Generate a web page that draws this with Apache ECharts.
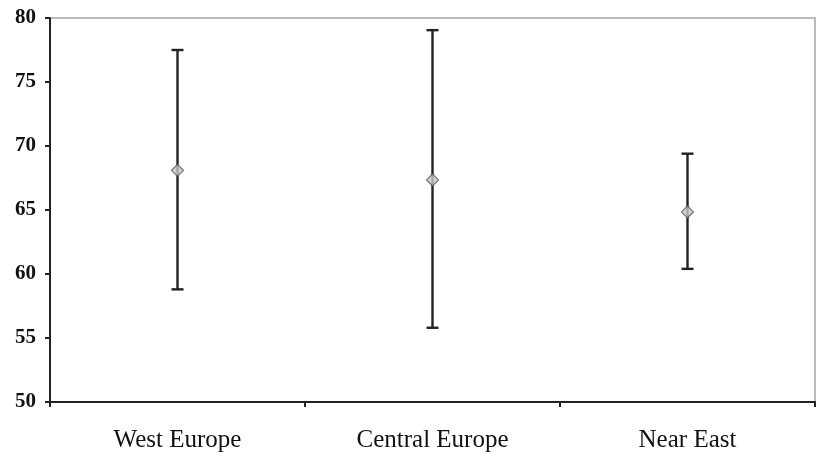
<!DOCTYPE html>
<html>
<head>
<meta charset="utf-8">
<script src="https://cdn.jsdelivr.net/npm/echarts@6/dist/echarts.min.js"></script>
<style>html,body{margin:0;padding:0;background:#fff}#c{width:817px;height:454px}</style>
</head>
<body>
<div id="c"></div>
<script>
const categories = ['West Europe', 'Central Europe', 'Near East'];
const means = [68.1, 67.35, 64.85];
const lows = [58.8, 55.8, 60.4];
const highs = [77.5, 79.05, 69.4];
const yTicks = [50, 55, 60, 65, 70, 75, 80];

const chart = echarts.init(document.getElementById('c'), null, {renderer: 'canvas'});
const errData = categories.map((c, i) => [i, lows[i], highs[i]]);
chart.setOption({
  animation: false,
  backgroundColor: '#fff',
  grid: {left: 50, right: 2, top: 18, bottom: 52, show: true, borderColor: '#bbbbbb', borderWidth: 2, backgroundColor: 'transparent'},
  xAxis: {
    type: 'category', data: categories, boundaryGap: true,
    axisLine: {lineStyle: {color: '#222', width: 2}},
    axisTick: {show: true, length: 5, lineStyle: {color: '#222', width: 2}},
    axisLabel: {margin: 26, color: '#111', fontFamily: 'Liberation Serif', fontSize: 25}
  },
  yAxis: {
    type: 'value', min: yTicks[0], max: yTicks[yTicks.length - 1], interval: 5,
    axisLine: {show: true, lineStyle: {color: '#222', width: 2}},
    axisTick: {show: true, length: 5, lineStyle: {color: '#222', width: 2}},
    splitLine: {show: false},
    axisLabel: {margin: 14, color: '#111', fontFamily: 'Liberation Serif', fontSize: 21, fontWeight: 'bold'}
  },
  series: [
    {
      type: 'custom',
      data: errData,
      renderItem: function (params, api) {
        const x = api.value(0);
        const lo = api.coord([x, api.value(1)]);
        const hi = api.coord([x, api.value(2)]);
        const hw = 6;
        const st = {stroke: '#222', lineWidth: 2.4};
        return {
          type: 'group',
          children: [
            {type: 'line', shape: {x1: lo[0], y1: lo[1], x2: hi[0], y2: hi[1]}, style: st},
            {type: 'line', shape: {x1: lo[0] - hw, y1: lo[1], x2: lo[0] + hw, y2: lo[1]}, style: st},
            {type: 'line', shape: {x1: hi[0] - hw, y1: hi[1], x2: hi[0] + hw, y2: hi[1]}, style: st}
          ]
        };
      },
      z: 2
    },
    {
      type: 'scatter',
      data: means.map((m, i) => [i, m]),
      symbol: 'diamond',
      symbolSize: [12, 12],
      itemStyle: {color: '#c8c8c8', borderColor: '#555', borderWidth: 1.2},
      z: 3
    }
  ]
});
</script>
</body>
</html>
